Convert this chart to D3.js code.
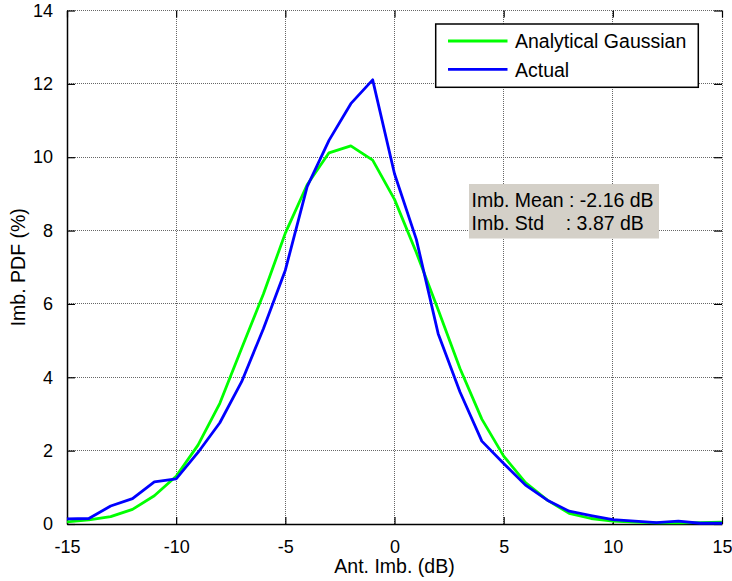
<!DOCTYPE html>
<html>
<head>
<meta charset="utf-8">
<script src="https://cdn.jsdelivr.net/npm/d3@7"></script>
<style>
  html, body { margin: 0; padding: 0; background: #fff; }
  svg { display: block; font-family: "Liberation Sans", Arial, sans-serif; }
</style>
</head>
<body>
<svg id="chart" width="732" height="581"></svg>
<script>
// ---- data ----
const xValues = [-15,-14,-13,-12,-11,-10,-9,-8,-7,-6,-5,-4,-3,-2,-1,0,1,2,3,4,5,6,7,8,9,10,11,12,13,14,15];
const gaussian = [0.06,0.11,0.20,0.40,0.77,1.30,2.15,3.29,4.79,6.28,7.93,9.25,10.12,10.31,9.92,8.85,7.40,5.84,4.24,2.86,1.85,1.13,0.65,0.29,0.15,0.08,0.05,0.03,0.03,0.04,0.05];
const actual = [0.14,0.15,0.49,0.69,1.15,1.23,1.95,2.76,3.88,5.33,6.92,9.20,10.46,11.46,12.11,9.55,7.76,5.19,3.60,2.26,1.65,1.06,0.65,0.35,0.23,0.12,0.08,0.04,0.08,0.02,0.02];
const xTicks = [-15,-10,-5,0,5,10,15];
const yTicks = [0,2,4,6,8,10,12,14];
const seriesNames = ["Analytical Gaussian", "Actual"];
const seriesColors = ["#00ff00", "#0000ff"];
const annotLines = ["Imb. Mean : -2.16 dB", "Imb. Std    : 3.87 dB"];
const xLabel = "Ant. Imb. (dB)";
const yLabel = "Imb. PDF (%)";

// ---- layout ----
const L = 67, R = 722, T = 10.5, B = 524;
const svg = d3.select("#chart");
const x = d3.scaleLinear().domain([-15, 15]).range([L, R]);
const y = d3.scaleLinear().domain([0, 14]).range([B, T]);
const fmt = d => String(d);
const snap = v => Math.round(v - 0.5) + 0.5;

// grid
const grid = svg.append("g").attr("shape-rendering", "crispEdges");
grid.selectAll("line.gx").data(xTicks).enter().append("line")
  .attr("x1", d => snap(x(d))).attr("x2", d => snap(x(d))).attr("y1", T).attr("y2", B)
  .attr("stroke", "#666").attr("stroke-width", 1).attr("stroke-dasharray", "1,1");
grid.selectAll("line.gy").data(yTicks).enter().append("line")
  .attr("x1", L).attr("x2", R).attr("y1", d => snap(y(d))).attr("y2", d => snap(y(d)))
  .attr("stroke", "#666").attr("stroke-width", 1).attr("stroke-dasharray", "1,1");

// axes
const xAxis = d3.axisBottom(x).tickValues(xTicks).tickSizeInner(-7).tickSizeOuter(0).tickPadding(16).tickFormat(fmt);
const yAxis = d3.axisLeft(y).tickValues(yTicks).tickSizeInner(-8).tickSizeOuter(0).tickPadding(14).tickFormat(fmt);
const gx = svg.append("g").attr("transform", `translate(0,${B})`).call(xAxis);
const gy = svg.append("g").attr("transform", `translate(${L},0)`).call(yAxis);
[gx, gy].forEach(g => {
  g.select(".domain").attr("stroke", "#000").attr("stroke-width", 1.5);
  g.selectAll(".tick line").attr("stroke", "#000").attr("stroke-width", 1.2);
  g.selectAll(".tick text").attr("fill", "#000").attr("font-size", 18)
    .attr("font-family", "'Liberation Sans', Arial, sans-serif");
});
gx.selectAll(".tick text").attr("dy", "0.71em");
// top and right ticks
const xTop = d3.axisTop(x).tickValues(xTicks).tickSizeInner(-7).tickSizeOuter(0).tickFormat("");
const yRight = d3.axisRight(y).tickValues(yTicks).tickSizeInner(-8).tickSizeOuter(0).tickFormat("");
const gt = svg.append("g").attr("transform", `translate(0,${T})`).call(xTop);
const gr = svg.append("g").attr("transform", `translate(${R},0)`).call(yRight);
[gt, gr].forEach(g => {
  g.select(".domain").remove();
  g.selectAll(".tick line").attr("stroke", "#000").attr("stroke-width", 1.2);
});

// lines
const line = d3.line().x((d, i) => x(xValues[i])).y(d => y(d));
[gaussian, actual].forEach((s, k) => {
  svg.append("path").datum(s).attr("d", line)
    .attr("fill", "none").attr("stroke", seriesColors[k])
    .attr("stroke-width", 2.8).attr("stroke-linejoin", "round");
});

// axis labels
svg.append("text").attr("x", (L + R) / 2).attr("y", 573).attr("text-anchor", "middle")
  .attr("font-size", 19.5).attr("fill", "#000").text(xLabel);
svg.append("text").attr("transform", `translate(25,${(T + B) / 2}) rotate(-90)`)
  .attr("text-anchor", "middle").attr("font-size", 19.5).attr("fill", "#000").text(yLabel);

// legend
const lg = svg.append("g");
lg.append("rect").attr("x", 435.7).attr("y", 24).attr("width", 262.6).attr("height", 63.3)
  .attr("fill", "#fff").attr("stroke", "#000").attr("stroke-width", 1.5);
const legY = [41, 69.3];
seriesNames.forEach((n, k) => {
  lg.append("line").attr("x1", 448).attr("x2", 507.5).attr("y1", legY[k]).attr("y2", legY[k])
    .attr("stroke", seriesColors[k]).attr("stroke-width", 2.8);
  lg.append("text").attr("x", 515).attr("y", legY[k] + 7.3).attr("font-size", 19.5)
    .attr("fill", "#000").text(n);
});

// annotation
const ag = svg.append("g");
ag.append("rect").attr("x", 469).attr("y", 184).attr("width", 190).attr("height", 54.5).attr("fill", "#d4d0c8");
annotLines.forEach((t, k) => {
  ag.append("text").attr("x", 471.5).attr("y", 206.7 + k * 23.3).attr("font-size", 19.5)
    .attr("fill", "#000").style("white-space", "pre").text(t);
});
</script>
</body>
</html>
